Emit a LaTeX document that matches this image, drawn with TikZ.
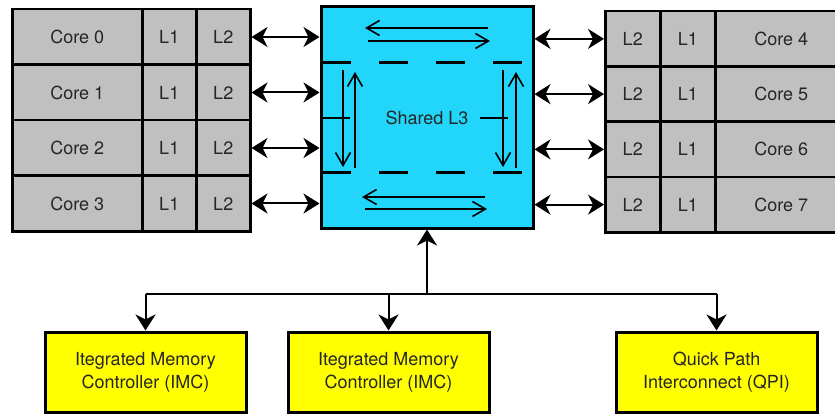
\documentclass[tikz,border=0pt]{standalone}
\usepackage{fontspec}
\setmainfont{TeX Gyre Heros}
\usetikzlibrary{arrows.meta,calc}
\definecolor{cellgray}{HTML}{C0C0C0}
\definecolor{l3cyan}{HTML}{22D5FA}
\definecolor{ctrlyellow}{HTML}{FFFF00}
\begin{document}
\begin{tikzpicture}[x=1pt,y=-1pt,
  bigtip/.tip={Stealth[length=16pt,width=20pt,inset=5pt]},
  barb/.tip={Straight Barb[length=13pt,width=15pt]},
  txt/.style={font=\fontsize{18}{23}\selectfont, text=black!85},
  cell/.style={txt, draw=black, line width=2.5pt, fill=cellgray,
    anchor=north west, inner sep=0pt},
  ctrl/.style={txt, draw=black, line width=3pt, fill=ctrlyellow,
    minimum width=201pt, minimum height=80pt, align=center, inner sep=0pt},
  conn/.style={line width=2pt},
  ring/.style={line width=1.6pt, -barb},
  dbl/.style={line width=2pt, bigtip-bigtip}]

\useasboundingbox (0,0) rectangle (835,414);
\clip (0,0) rectangle (835,414);

% cores 0-3 with their private caches
\foreach \i in {0,1,2,3} {
  \pgfmathsetmacro\yy{8+55.5*\i}
  \node[cell, minimum width=130pt, minimum height=55.5pt] (core\i) at (11,\yy) {Core \i};
  \node[cell, minimum width=54pt, minimum height=55.5pt] (la\i) at (141,\yy) {L1};
  \node[cell, minimum width=54pt, minimum height=55.5pt] (lb\i) at (195,\yy) {L2};
}

% cores 4-7 with their private caches
\foreach \i/\c in {0/4,1/5,2/6,3/7} {
  \pgfmathsetmacro\yy{10+55.25*\i}
  \node[cell, minimum width=55pt, minimum height=55.25pt] (rb\i) at (604,\yy) {L2};
  \node[cell, minimum width=55pt, minimum height=55.25pt] (ra\i) at (659,\yy) {L1};
  \node[cell, minimum width=132pt, minimum height=55.25pt] (core\c) at (714,\yy) {Core \c};
}

% shared last-level cache
\node[txt, draw=black, line width=3pt, fill=l3cyan, minimum width=212pt,
      minimum height=221pt] (l3) at (427,117.5) {Shared L3};

% ring inside the L3
\draw[ring] (488,28) -- (365,28);
\draw[ring] (368,41) -- (490,41);
\draw[ring] (485,197) -- (362,197);
\draw[ring] (365,209) -- (487,209);
\draw[ring] (343,70) -- (343,167);
\draw[ring] (355,168) -- (355,72);
\draw[ring] (503,70) -- (503,167);
\draw[ring] (516,168) -- (516,72);
\draw[line width=3pt, dash pattern=on 29pt off 28pt] (322,63) -- (523,63);
\draw[line width=3pt, dash pattern=on 29pt off 28pt] (322,173) -- (523,173);
\draw[line width=2pt] (322,118) -- (350,118);
\draw[line width=2pt] (480,118) -- (508,118);

% core <-> L3 links
\foreach \i in {0,1,2,3} {
  \draw[dbl] (lb\i.east) -- (lb\i.east -| l3.west);
  \draw[dbl] (l3.east |- rb\i.west) -- (rb\i.west);
}

% uncore blocks
\node[ctrl] (imc1) at (145.5,372) {Itegrated Memory\\Controller (IMC)};
\node[ctrl] (imc2) at (388.5,372) {Itegrated Memory\\Controller (IMC)};
\node[ctrl] (qpi) at (716.5,372) {Quick Path\\Interconnect (QPI)};

% bus between L3 and uncore
\coordinate (bus) at (427,294);
\draw[conn, -bigtip] (bus) -- (l3.south);
\draw[conn] (imc1.north |- bus) -- (qpi.north |- bus);
\foreach \n in {imc1,imc2,qpi}
  \draw[conn, -bigtip] (\n.north |- bus) -- (\n.north);
\end{tikzpicture}
\end{document}
